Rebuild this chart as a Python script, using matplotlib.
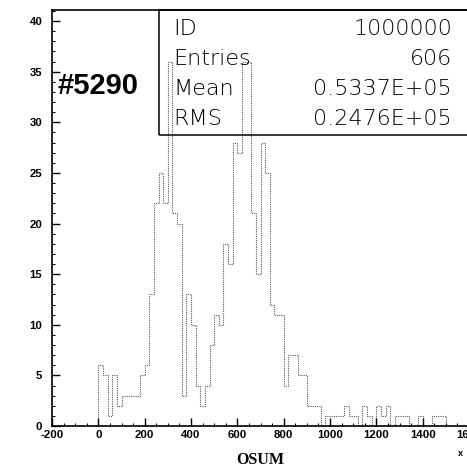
import matplotlib
matplotlib.use("Agg")
import matplotlib.pyplot as plt
from matplotlib.patches import Rectangle
from matplotlib.ticker import MultipleLocator
import numpy as np

# ---- data ----
bin_width = 20
x_start = 0
counts = [6, 5, 1, 5, 2, 3, 3, 3, 3, 5,
          6, 13, 22, 25, 22, 36, 21, 20, 3, 13,
          10, 4, 2, 4, 8, 11, 10, 18, 16, 28,
          27, 36, 36, 21, 15, 28, 25, 12, 11, 11,
          4, 7, 7, 5, 5, 2, 2, 2, 0, 1,
          1, 1, 1, 2, 1, 1, 0, 2, 1, 0,
          2, 1, 2, 0, 1, 1, 1, 0, 0, 1,
          0, 0, 1, 1, 1, 0, 0, 0, 0, 0]
x_ticks = [-200, 0, 200, 400, 600, 800, 1000, 1200, 1400, 1600]
y_ticks = [0, 5, 10, 15, 20, 25, 30, 35, 40]
stat_names = ["ID", "Entries", "Mean", "RMS"]
stat_values = ["1000000", "606", "0.5337E+05", "0.2476E+05"]
x_title = "OSUM"
note = "#5290"

edges = x_start + bin_width * np.arange(len(counts) + 1)

W, H = 467, 468
fig = plt.figure(figsize=(W / 100, H / 100), dpi=100)
fig.patch.set_facecolor("white")

# axes placed in pixel terms (right side extends past the figure edge, as in the reference)
left_px, right_px, top_px, bottom_px = 52, 469, 10, 426
ax = fig.add_axes([left_px / W, 1 - bottom_px / H,
                   (right_px - left_px) / W, (bottom_px - top_px) / H])
ax.set_facecolor("none")

ax.stairs(counts, edges, baseline=0, color="0.35", linewidth=0.8,
          linestyle=(0, (1, 1)))

ax.set_xlim(-200, 1600)
ax.set_ylim(0, 41.1)

tick_font = dict(family=["Liberation Sans Narrow", "Liberation Sans", "DejaVu Sans"],
                 weight="bold", size=8.2)
ax.set_xticks(x_ticks)
ax.set_xticklabels([str(v) for v in x_ticks], **tick_font)
ax.set_yticks(y_ticks)
ax.set_yticklabels([str(v) for v in y_ticks], **tick_font)
ax.xaxis.set_minor_locator(MultipleLocator(50))
ax.yaxis.set_minor_locator(MultipleLocator(1))
ax.tick_params(axis="both", which="major", direction="in", length=6, width=1.0,
               color="black")
ax.tick_params(axis="both", which="minor", direction="in", length=2.5, width=0.8,
               color="black")
ax.tick_params(axis="x", which="major", pad=3)
ax.tick_params(axis="y", which="major", pad=7)
ax.tick_params(top=False, right=False, which="both")
for s in ["left", "bottom", "top"]:
    ax.spines[s].set_linewidth(1.2)
    ax.spines[s].set_color("black")
ax.spines["right"].set_visible(False)

# statistics box
bx0, bx1, by0, by1 = 159, 472, 10, 135
fig.add_artist(Rectangle((bx0 / W, 1 - by1 / H), (bx1 - bx0) / W, (by1 - by0) / H,
                         transform=fig.transFigure, fill=False, edgecolor="black",
                         linewidth=1.1, clip_on=False))
stat_font = dict(family=["DejaVu Sans"], weight="light", size=16, color="black")
for i, (nm, val) in enumerate(zip(stat_names, stat_values)):
    yb = 1 - (35 + 30 * i) / H
    fig.text(173 / W, yb, nm, ha="left", va="baseline", **stat_font)
    fig.text(452 / W, yb, val, ha="right", va="baseline", **stat_font)

# handwritten annotation
fig.text(98 / W, 1 - 86 / H, note, ha="center", va="center",
         family=["Liberation Sans Narrow", "Liberation Sans", "DejaVu Sans"],
         weight="bold", size=21, color="black")

# axis title and exponent mark
fig.text(260 / W, 1 - 464 / H, x_title, ha="center", va="baseline",
         family=["Liberation Serif", "DejaVu Serif"], weight="bold", size=11.5)
fig.text(460 / W, 1 - 454 / H, "x", ha="center", va="center",
         family=["Liberation Sans", "DejaVu Sans"], weight="bold", size=6.5)

fig.savefig("out.png", dpi=100, facecolor="white")
